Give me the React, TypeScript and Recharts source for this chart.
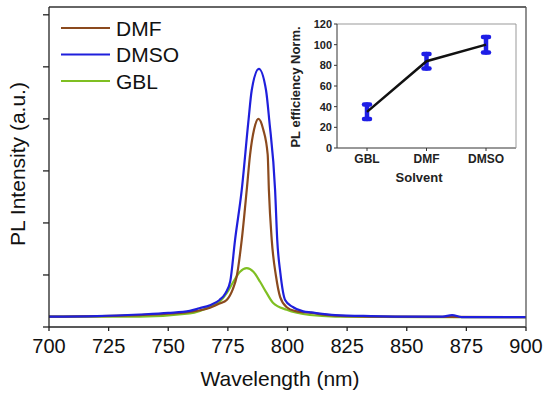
import React from 'react';
import { LineChart, Line, XAxis, YAxis, Legend, ErrorBar } from 'recharts';

const FONT = '"Liberation Sans", Arial, Helvetica, sans-serif';

// PL spectra, wavelength (nm) vs intensity (a.u.)
const dmfWavelength = [700, 738, 759, 767.5, 771.5, 774.5, 777, 778.7, 780.8, 782.9, 784.3, 786, 787.8, 789.8, 791.7, 792.2, 793.4, 795.2, 796.9, 799.7, 803, 810, 820, 840, 900];
const dmfIntensity = [0.2, 0.23, 0.29, 0.37, 0.45, 0.52, 0.72, 0.97, 1.67, 2.63, 3.31, 3.8, 4.0, 3.8, 3.31, 2.63, 1.67, 0.97, 0.58, 0.38, 0.31, 0.27, 0.22, 0.2, 0.19];

const dmsoWavelength = [700, 720, 738, 750, 759, 763, 767.5, 771.5, 774, 776, 778, 780.8, 783.6, 785, 788, 791, 792.4, 794.8, 795.7, 797, 799, 802, 806.6, 810, 820, 835, 855, 865, 869, 873, 900];
const dmsoIntensity = [0.2, 0.21, 0.24, 0.27, 0.31, 0.36, 0.42, 0.52, 0.65, 0.88, 1.67, 2.63, 3.95, 4.55, 4.96, 4.55, 3.95, 2.63, 1.67, 1.04, 0.52, 0.39, 0.3, 0.28, 0.23, 0.21, 0.2, 0.2, 0.23, 0.19, 0.19];

const gblWavelength = [700, 738, 759, 763.3, 767.5, 771.7, 774.5, 777.3, 780.1, 782.9, 785.7, 788.5, 791.3, 794, 799.7, 809.4, 820, 860, 900];
const gblIntensity = [0.2, 0.2, 0.26, 0.31, 0.39, 0.49, 0.65, 0.87, 1.06, 1.13, 1.06, 0.87, 0.65, 0.46, 0.33, 0.23, 0.2, 0.19, 0.19];

const wavelengthTicks = [700, 725, 750, 775, 800, 825, 850, 875, 900];
const intensityTicks = [0, 1, 2, 3, 4, 5, 6];

// inset: normalised PL efficiency per solvent
const solvents = ['GBL', 'DMF', 'DMSO'];
const efficiency = [35, 84, 100];
const efficiencyErr = [7, 7, 7.5];
const efficiencyTicks = [0, 20, 40, 60, 80, 100, 120];

const series = [
  { name: 'DMF', color: '#8b4a1e', x: dmfWavelength, y: dmfIntensity },
  { name: 'DMSO', color: '#1f1fdc', x: dmsoWavelength, y: dmsoIntensity },
  { name: 'GBL', color: '#7fbf22', x: gblWavelength, y: gblIntensity },
];
const drawOrder = ['GBL', 'DMF', 'DMSO'];

const insetData = solvents.map((s, i) => ({ solvent: s, eff: efficiency[i], err: efficiencyErr[i] }));

function SpectraLegend() {
  return (
    <svg width={130} height={80} style={{ display: 'block' }}>
      {series.map((s, i) => (
        <g key={s.name}>
          <line x1={6} x2={55} y1={14 + i * 26.5} y2={14 + i * 26.5} stroke={s.color} strokeWidth={2.2} />
          <text x={61} y={21.5 + i * 26.5} fontFamily={FONT} fontSize={21} fill="#111">{s.name}</text>
        </g>
      ))}
    </svg>
  );
}

function Inset() {
  return (
    <LineChart width={250} height={180} data={insetData} margin={{ top: 9, right: 13, left: 0, bottom: 0 }}>
      <XAxis
        dataKey="solvent" padding={{ left: 30, right: 30 }} height={46}
        tickSize={3} tickMargin={3} stroke="#333"
        tick={{ fontFamily: FONT, fontSize: 12, fontWeight: 700, fill: '#222' }}
        label={{ content: () => (
          <text x={139} y={168} textAnchor="middle" fontFamily={FONT} fontSize={13} fontWeight={700} fill="#222">Solvent</text>
        ) }}
      />
      <XAxis xAxisId="top" orientation="top" dataKey="solvent" height={1} tick={false} tickLine={false} stroke="#999" />
      <YAxis
        domain={[0, 120]} ticks={efficiencyTicks} width={57} tickSize={3} tickMargin={2} stroke="#333"
        tick={{ fontFamily: FONT, fontSize: 11, fontWeight: 700, fill: '#222' }}
        label={{ content: () => (
          <text x={20} y={73} transform="rotate(-90, 20, 73)" textAnchor="middle" fontFamily={FONT} fontSize={13} fontWeight={700} fill="#222">PL efficiency Norm.</text>
        ) }}
      />
      <YAxis yAxisId="right" orientation="right" width={1} tick={false} tickLine={false} stroke="#999" />
      <Line dataKey="eff" stroke="#111" strokeWidth={2.5} dot={false} isAnimationActive={false}>
        <ErrorBar dataKey="err" direction="y" width={3} stroke="#1e1ee6" strokeWidth={4.5} strokeLinecap="round" />
      </Line>
    </LineChart>
  );
}

export default function App() {
  return (
    <div style={{ position: 'absolute', left: 0, top: 0, width: 550, height: 395, background: '#fff' }}>
      <LineChart width={550} height={395} margin={{ top: 6, right: 23, left: 0, bottom: 0 }}>
        <XAxis
          type="number" dataKey="x" domain={[700, 900]} ticks={wavelengthTicks} height={68}
          allowDuplicatedCategory={false} tickSize={4} tickMargin={8} stroke="#222" strokeWidth={1.3}
          tick={{ fontFamily: FONT, fontSize: 20, fill: '#111' }}
          label={{ content: () => (
            <text x={280} y={386} textAnchor="middle" fontFamily={FONT} fontSize={21} fill="#111">Wavelength (nm)</text>
          ) }}
        />
        <XAxis xAxisId="top" type="number" domain={[700, 900]} orientation="top" height={1} tick={false} tickLine={false} stroke="#333" strokeWidth={1.3} />
        <YAxis
          type="number" domain={[0, 6.15]} ticks={intensityTicks} width={49} tickSize={6}
          tickFormatter={() => ''} stroke="#222" strokeWidth={1.3}
          label={{ content: () => (
            <text x={25} y={164} transform="rotate(-90, 25, 164)" textAnchor="middle" fontFamily={FONT} fontSize={21} fill="#111">PL Intensity (a.u.)</text>
          ) }}
        />
        <YAxis yAxisId="right" orientation="right" width={1} tick={false} tickLine={false} stroke="#555" strokeWidth={1.3} />
        <Legend
          layout="horizontal" verticalAlign="middle" align="center"
          wrapperStyle={{ top: 14, left: 55, width: 130, height: 80 }}
          content={() => <SpectraLegend />}
        />
        {drawOrder.map(name => {
          const s = series.find(r => r.name === name)!;
          const data = s.x.map((x, i) => ({ x, y: s.y[i] }));
          return (
            <Line
              key={name} data={data} dataKey="y" name={name} type="monotone"
              stroke={s.color} strokeWidth={2.2} dot={false} isAnimationActive={false}
            />
          );
        })}
      </LineChart>
      <div style={{ position: 'absolute', left: 280, top: 14 }}>
        <Inset />
      </div>
    </div>
  );
}
